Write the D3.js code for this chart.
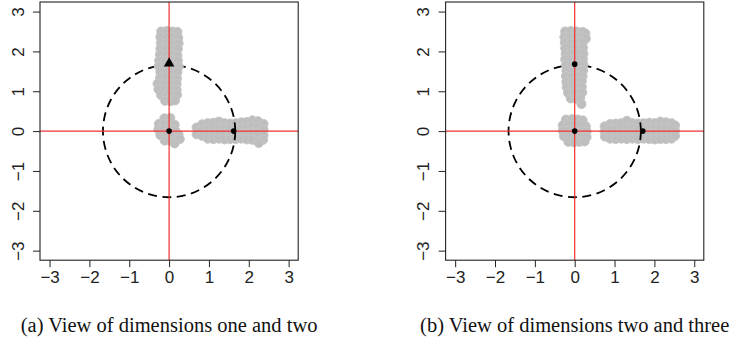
<!DOCTYPE html>
<html>
<head>
<meta charset="utf-8">
<script src="https://cdn.jsdelivr.net/npm/d3@7"></script>
<style>
  body { margin: 0; background: #fff; }
</style>
</head>
<body>
<svg id="fig" width="738" height="341"></svg>
<script>
// axis ticks and limits (same for both views)
const ticks = [-3, -2, -1, 0, 1, 2, 3];
const axisLimit = 3.24;
const circleRadius = 1.66;

// (a) dimensions one and two
const horizOneTwo = [
  [0.69, 0.09], [0.69, -0.08],
  [0.83, 0.17], [0.83, 0.03], [0.83, -0.12],
  [0.97, 0.2], [0.97, 0.07], [0.97, -0.07], [0.97, -0.19],
  [1.11, 0.21], [1.11, 0.08], [1.11, -0.06], [1.11, -0.2],
  [1.25, 0.24], [1.25, 0.09], [1.25, -0.05], [1.25, -0.19],
  [1.39, 0.2], [1.39, 0.06], [1.39, -0.08], [1.39, -0.21],
  [1.53, 0.19], [1.53, 0.05], [1.53, -0.09], [1.53, -0.2],
  [1.67, 0.2], [1.67, 0.07], [1.67, -0.07], [1.67, -0.2],
  [1.81, 0.22], [1.81, 0.08], [1.81, -0.06], [1.81, -0.19],
  [1.95, 0.23], [1.95, 0.09], [1.95, -0.06], [1.95, -0.21],
  [2.09, 0.27], [2.09, 0.11], [2.09, -0.04], [2.09, -0.22],
  [2.23, 0.25], [2.23, 0.1], [2.23, -0.05], [2.23, -0.24],
  [2.37, 0.18], [2.37, 0.04], [2.37, -0.1], [2.36, -0.22], [2.25, -0.3]
];
const vertOneTwo = [
  [-0.2, 2.5], [-0.06, 2.51], [0.08, 2.5], [0.21, 2.49],
  [-0.22, 2.36], [-0.07, 2.35], [0.08, 2.36], [0.23, 2.34],
  [-0.21, 2.21], [-0.06, 2.2], [0.09, 2.22], [0.24, 2.2],
  [-0.22, 2.06], [-0.07, 2.07], [0.07, 2.05], [0.22, 2.06],
  [-0.23, 1.92], [-0.08, 1.91], [0.07, 1.92], [0.21, 1.9],
  [-0.25, 1.77], [-0.09, 1.76], [0.06, 1.78], [0.22, 1.77],
  [-0.26, 1.63], [-0.1, 1.62], [0.06, 1.63], [0.24, 1.62],
  [-0.22, 1.48], [-0.07, 1.47], [0.08, 1.49], [0.21, 1.48],
  [-0.23, 1.33], [-0.08, 1.34], [0.07, 1.33], [0.2, 1.32],
  [-0.29, 1.19], [-0.12, 1.18], [0.04, 1.2], [0.19, 1.18],
  [-0.27, 1.05], [-0.11, 1.04], [0.05, 1.05], [0.19, 1.03],
  [-0.2, 0.9], [-0.06, 0.89], [0.08, 0.9], [0.2, 0.91],
  [-0.1, 0.76], [0.04, 0.75], [0.15, 0.77]
];
const originOneTwo = [
  [-0.12, 0.32], [0.03, 0.33],
  [-0.26, 0.18], [-0.12, 0.19], [0.02, 0.19], [0.14, 0.16],
  [-0.27, 0.04], [-0.13, 0.05], [0.01, 0.04], [0.15, 0.02],
  [-0.22, -0.1], [-0.07, -0.1], [0.08, -0.11], [0.24, -0.09],
  [-0.11, -0.24], [0.04, -0.25], [0.17, -0.22], [0.27, -0.2],
  [0.14, -0.31]
];
const dotsOneTwo = [[0, 0], [1.62, 0]];
const triangleOneTwo = [[0, 1.7]];

// (b) dimensions two and three
const horizTwoThree = [
  [0.75, 0.12], [0.75, -0.02], [0.76, -0.14],
  [0.89, 0.18], [0.89, 0.05], [0.89, -0.08], [0.89, -0.19],
  [1.03, 0.19], [1.03, 0.06], [1.03, -0.07], [1.03, -0.2],
  [1.17, 0.2], [1.17, 0.07], [1.17, -0.06], [1.17, -0.19],
  [1.31, 0.26], [1.31, 0.08], [1.31, -0.06], [1.31, -0.2],
  [1.45, 0.2], [1.45, 0.06], [1.45, -0.07], [1.45, -0.19],
  [1.59, 0.19], [1.59, 0.05], [1.59, -0.08], [1.59, -0.2],
  [1.73, 0.2], [1.73, 0.07], [1.73, -0.07], [1.73, -0.19],
  [1.87, 0.21], [1.87, 0.08], [1.87, -0.06], [1.87, -0.2],
  [2.01, 0.2], [2.01, 0.07], [2.01, -0.07], [2.01, -0.21],
  [2.15, 0.24], [2.15, 0.08], [2.15, -0.06], [2.15, -0.2],
  [2.29, 0.22], [2.29, 0.07], [2.29, -0.07], [2.29, -0.2],
  [2.43, 0.2], [2.43, 0.06], [2.43, -0.08], [2.43, -0.19],
  [2.52, 0.14], [2.52, 0.01], [2.52, -0.12]
];
const vertTwoThree = [
  [-0.24, 2.5], [-0.1, 2.51], [0.05, 2.5], [0.2, 2.49], [0.27, 2.45],
  [-0.26, 2.36], [-0.11, 2.37], [0.04, 2.36], [0.19, 2.35], [0.28, 2.32],
  [-0.25, 2.22], [-0.1, 2.21], [0.05, 2.23], [0.2, 2.22],
  [-0.24, 2.08], [-0.09, 2.07], [0.06, 2.08], [0.21, 2.09],
  [-0.23, 1.94], [-0.08, 1.95], [0.07, 1.93], [0.22, 1.94],
  [-0.24, 1.8], [-0.09, 1.79], [0.06, 1.81], [0.21, 1.8],
  [-0.22, 1.66], [-0.07, 1.65], [0.08, 1.66], [0.22, 1.67],
  [-0.21, 1.52], [-0.06, 1.51], [0.09, 1.53], [0.21, 1.52],
  [-0.22, 1.38], [-0.07, 1.37], [0.08, 1.38], [0.2, 1.37],
  [-0.21, 1.24], [-0.06, 1.23], [0.08, 1.24], [0.18, 1.25],
  [-0.2, 1.1], [-0.05, 1.09], [0.09, 1.1], [0.18, 1.11],
  [-0.17, 0.96], [-0.03, 0.95], [0.1, 0.96], [0.19, 0.97],
  [-0.1, 0.82], [0.03, 0.81], [0.14, 0.83],
  [0.17, 0.68]
];
const originTwoThree = [
  [-0.22, 0.29], [-0.07, 0.3], [0.08, 0.29], [0.2, 0.27],
  [-0.3, 0.15], [-0.15, 0.16], [0, 0.15], [0.15, 0.14], [0.28, 0.12],
  [-0.3, 0.01], [-0.15, 0.02], [0, 0.01], [0.15, 0], [0.3, -0.01],
  [-0.27, -0.13], [-0.12, -0.12], [0.03, -0.13], [0.18, -0.14], [0.3, -0.15],
  [-0.16, -0.27], [-0.02, -0.28], [0.12, -0.27], [0.25, -0.26]
];
const dotsTwoThree = [[0, 0], [0, 1.68], [1.71, 0]];
const triangleTwoThree = [];

const captions = ['(a) View of dimensions one and two', '(b) View of dimensions two and three'];

const panels = [
  { left: 40, horiz: horizOneTwo, rest: vertOneTwo.concat(originOneTwo), dots: dotsOneTwo, tris: triangleOneTwo, caption: captions[0] },
  { left: 445.6, horiz: horizTwoThree, rest: vertTwoThree.concat(originTwoThree), dots: dotsTwoThree, tris: triangleTwoThree, caption: captions[1] }
];

const svg = d3.select('#fig');
const plotTop = 2;
const size = 258.2;
const pointR = 4.5;
const grey = '#bebebe';
const fmt = d => d3.format('d')(d).replace('-', '\u2212');

panels.forEach(p => {
  const x = d3.scaleLinear().domain([-axisLimit, axisLimit]).range([p.left, p.left + size]);
  const y = d3.scaleLinear().domain([-axisLimit, axisLimit]).range([plotTop + size, plotTop]);
  const g = svg.append('g');

  const drawPoints = pts => {
    g.append('g')
      .selectAll('circle')
      .data(pts)
      .join('circle')
      .attr('cx', d => x(d[0]))
      .attr('cy', d => y(d[1]))
      .attr('r', pointR)
      .attr('fill', grey)
      .attr('stroke', '#c6c6c6')
      .attr('stroke-width', 1);
  };

  drawPoints(p.horiz);

  // dashed circle
  g.append('ellipse')
    .attr('cx', x(0))
    .attr('cy', y(0))
    .attr('rx', x(circleRadius) - x(0))
    .attr('ry', y(0) - y(circleRadius))
    .attr('fill', 'none')
    .attr('stroke', '#000')
    .attr('stroke-width', 1.8)
    .attr('stroke-dasharray', '9,5.5');

  drawPoints(p.rest);

  // red reference lines
  g.append('line')
    .attr('x1', x(-axisLimit)).attr('x2', x(axisLimit))
    .attr('y1', y(0)).attr('y2', y(0))
    .attr('stroke', '#f03030').attr('stroke-width', 1.2);
  g.append('line')
    .attr('x1', x(0)).attr('x2', x(0))
    .attr('y1', y(-axisLimit)).attr('y2', y(axisLimit))
    .attr('stroke', '#f03030').attr('stroke-width', 1.2);

  g.append('g')
    .selectAll('circle')
    .data(p.dots)
    .join('circle')
    .attr('cx', d => x(d[0]))
    .attr('cy', d => y(d[1]))
    .attr('r', 2.8)
    .attr('fill', '#000');

  g.append('g')
    .selectAll('path')
    .data(p.tris)
    .join('path')
    .attr('d', d3.symbol(d3.symbolTriangle, 48))
    .attr('transform', d => `translate(${x(d[0])},${y(d[1])})`)
    .attr('fill', '#000');

  // box
  g.append('rect')
    .attr('x', p.left).attr('y', plotTop)
    .attr('width', size).attr('height', size)
    .attr('fill', 'none').attr('stroke', '#222').attr('stroke-width', 1.1);

  // axes
  const xAxis = g.append('g')
    .attr('transform', `translate(0,${plotTop + size})`)
    .call(d3.axisBottom(x).tickValues(ticks).tickSize(7).tickPadding(4).tickFormat(fmt));
  const yAxis = g.append('g')
    .attr('transform', `translate(${p.left},0)`)
    .call(d3.axisLeft(y).tickValues(ticks).tickSize(7).tickFormat(fmt));
  [xAxis, yAxis].forEach(a => {
    a.select('.domain').remove();
    a.selectAll('line').attr('stroke', '#222');
    a.selectAll('text')
      .attr('fill', '#222')
      .style('font-family', '"Liberation Sans", Arial, sans-serif')
      .style('font-size', '17px');
  });
  yAxis.selectAll('.tick text')
    .attr('x', null)
    .attr('dy', null)
    .attr('y', 0)
    .attr('text-anchor', 'middle')
    .attr('transform', 'translate(-16.5,0) rotate(-90)');

  // caption
  svg.append('text')
    .attr('x', x(0))
    .attr('y', 332)
    .attr('text-anchor', 'middle')
    .style('font-family', '"Liberation Serif", "Times New Roman", serif')
    .style('font-size', '20.5px')
    .attr('fill', '#111')
    .text(p.caption);
});
</script>
</body>
</html>
